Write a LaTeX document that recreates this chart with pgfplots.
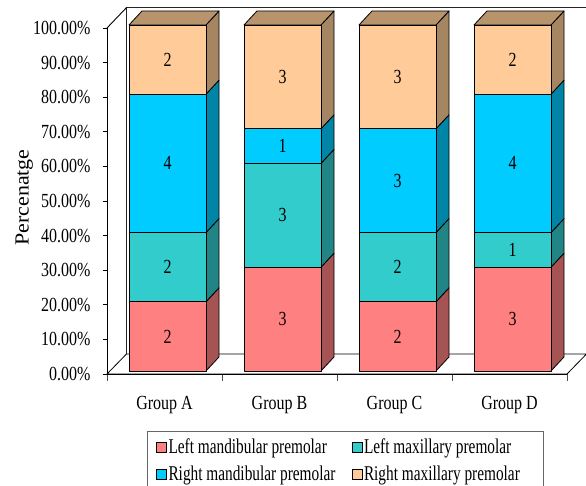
\documentclass[border=0pt]{standalone}
\usepackage{pgfplots}
\pgfplotsset{compat=1.18}
\usepackage{fontspec}
\setmainfont[FakeStretch=0.8]{Liberation Serif}
\newfontfamily\ylabfont[FakeStretch=1.1]{Liberation Serif}
\newfontfamily\legfont[FakeStretch=0.73]{Liberation Serif}
\definecolor{salF}{RGB}{255,128,128}
\definecolor{salS}{RGB}{166,83,83}
\definecolor{teaF}{RGB}{51,204,204}
\definecolor{teaS}{RGB}{33,133,133}
\definecolor{cyaF}{RGB}{0,204,255}
\definecolor{cyaS}{RGB}{0,133,166}
\definecolor{peaF}{RGB}{255,204,153}
\definecolor{peaS}{RGB}{166,133,99}
\definecolor{peaT}{RGB}{184,148,108}
\begin{document}
\begin{tikzpicture}
\useasboundingbox (0,0) rectangle (586pt,486pt);
\begin{axis}[
  at={(107pt,112pt)}, anchor=south west,
  scale only axis, width=460pt, height=346pt,
  xmin=0, xmax=460, ymin=0, ymax=100,
  clip=false,
  axis lines*=left,
  axis line style={line width=0.9pt, black},
  tick align=outside,
  xtick={0,115,230,345,460},
  xticklabels={Group A,Group B,Group C,Group D},
  x tick label as interval,
  xtick style={/pgfplots/major tick length=7pt, line width=0.8pt, black!70},
  ytick={0,10,20,30,40,50,60,70,80,90,100},
  yticklabels={0.00\%,10.00\%,20.00\%,30.00\%,40.00\%,50.00\%,60.00\%,70.00\%,80.00\%,90.00\%,100.00\%},
  ytick style={/pgfplots/major tick length=4pt, line width=0.8pt, black},
  tick label style={font=\fontsize{20}{23}\selectfont},
  yticklabel style={inner sep=0pt, xshift=-12pt},
  xticklabel style={inner sep=0pt, yshift=-18pt},
  ylabel={Percenatge},
  ylabel style={font=\ylabfont\fontsize{20}{24}\selectfont, at={(axis description cs:-0.180,0.51)}, anchor=center},
  face/.style={forget plot, draw=black, line width=0.8pt, line join=round, mark=none},
  legend image code/.code={\draw[#1, draw=black, line width=0.6pt] (0pt,-5pt) rectangle (10pt,5pt);},
  legend columns=2,
  legend cell align=left,
  legend style={at={(axis description cs:0.087,-0.1647)}, anchor=north west,
    draw=black!60, line width=0.8pt, font=\legfont\fontsize{21}{24}\selectfont,
    inner xsep=9pt, inner ysep=2pt,
    nodes={inner xsep=1.5pt, inner ysep=5.5pt},
    /tikz/every even column/.append style={column sep=15pt}},
]
% floor and walls
\addplot[face, fill=white] coordinates {(0,0) (460,0) (479.5,5.78) (19.5,5.78)} -- cycle;
\addplot[forget plot, draw=black!85, line width=1.2pt, mark=none] coordinates {(19.5,5.78) (19.5,105.9) (480,105.9)};
\addplot[forget plot, draw=black, line width=0.9pt, mark=none] coordinates {(0,100) (19.5,105.9)};
% ---------- Group A
\addplot[face, fill=salS] coordinates {(99,0.87)(112,4.92)(112,24.92)(99,20.87)} -- cycle;
\addplot[face, fill=teaS] coordinates {(99,20.87)(112,24.92)(112,44.92)(99,40.87)} -- cycle;
\addplot[face, fill=cyaS] coordinates {(99,40.87)(112,44.92)(112,84.92)(99,80.87)} -- cycle;
\addplot[face, fill=peaS] coordinates {(99,80.87)(112,84.92)(112,104.92)(99,100.87)} -- cycle;
\addplot[face, fill=peaT] coordinates {(22,100.87)(99,100.87)(112,104.92)(35,104.92)} -- cycle;
\addplot[face, fill=salF] coordinates {(22,0.87)(99,0.87)(99,20.87)(22,20.87)} -- cycle;
\addplot[face, fill=teaF] coordinates {(22,20.87)(99,20.87)(99,40.87)(22,40.87)} -- cycle;
\addplot[face, fill=cyaF] coordinates {(22,40.87)(99,40.87)(99,80.87)(22,80.87)} -- cycle;
\addplot[face, fill=peaF] coordinates {(22,80.87)(99,80.87)(99,100.87)(22,100.87)} -- cycle;
% ---------- Group B
\addplot[face, fill=salS] coordinates {(214,0.87)(227,4.92)(227,34.92)(214,30.87)} -- cycle;
\addplot[face, fill=teaS] coordinates {(214,30.87)(227,34.92)(227,64.92)(214,60.87)} -- cycle;
\addplot[face, fill=cyaS] coordinates {(214,60.87)(227,64.92)(227,74.92)(214,70.87)} -- cycle;
\addplot[face, fill=peaS] coordinates {(214,70.87)(227,74.92)(227,104.92)(214,100.87)} -- cycle;
\addplot[face, fill=peaT] coordinates {(137,100.87)(214,100.87)(227,104.92)(150,104.92)} -- cycle;
\addplot[face, fill=salF] coordinates {(137,0.87)(214,0.87)(214,30.87)(137,30.87)} -- cycle;
\addplot[face, fill=teaF] coordinates {(137,30.87)(214,30.87)(214,60.87)(137,60.87)} -- cycle;
\addplot[face, fill=cyaF] coordinates {(137,60.87)(214,60.87)(214,70.87)(137,70.87)} -- cycle;
\addplot[face, fill=peaF] coordinates {(137,70.87)(214,70.87)(214,100.87)(137,100.87)} -- cycle;
% ---------- Group C
\addplot[face, fill=salS] coordinates {(329,0.87)(342,4.92)(342,24.92)(329,20.87)} -- cycle;
\addplot[face, fill=teaS] coordinates {(329,20.87)(342,24.92)(342,44.92)(329,40.87)} -- cycle;
\addplot[face, fill=cyaS] coordinates {(329,40.87)(342,44.92)(342,74.92)(329,70.87)} -- cycle;
\addplot[face, fill=peaS] coordinates {(329,70.87)(342,74.92)(342,104.92)(329,100.87)} -- cycle;
\addplot[face, fill=peaT] coordinates {(252,100.87)(329,100.87)(342,104.92)(265,104.92)} -- cycle;
\addplot[face, fill=salF] coordinates {(252,0.87)(329,0.87)(329,20.87)(252,20.87)} -- cycle;
\addplot[face, fill=teaF] coordinates {(252,20.87)(329,20.87)(329,40.87)(252,40.87)} -- cycle;
\addplot[face, fill=cyaF] coordinates {(252,40.87)(329,40.87)(329,70.87)(252,70.87)} -- cycle;
\addplot[face, fill=peaF] coordinates {(252,70.87)(329,70.87)(329,100.87)(252,100.87)} -- cycle;
% ---------- Group D
\addplot[face, fill=salS] coordinates {(444,0.87)(457,4.92)(457,34.92)(444,30.87)} -- cycle;
\addplot[face, fill=teaS] coordinates {(444,30.87)(457,34.92)(457,44.92)(444,40.87)} -- cycle;
\addplot[face, fill=cyaS] coordinates {(444,40.87)(457,44.92)(457,84.92)(444,80.87)} -- cycle;
\addplot[face, fill=peaS] coordinates {(444,80.87)(457,84.92)(457,104.92)(444,100.87)} -- cycle;
\addplot[face, fill=peaT] coordinates {(367,100.87)(444,100.87)(457,104.92)(380,104.92)} -- cycle;
\addplot[face, fill=salF] coordinates {(367,0.87)(444,0.87)(444,30.87)(367,30.87)} -- cycle;
\addplot[face, fill=teaF] coordinates {(367,30.87)(444,30.87)(444,40.87)(367,40.87)} -- cycle;
\addplot[face, fill=cyaF] coordinates {(367,40.87)(444,40.87)(444,80.87)(367,80.87)} -- cycle;
\addplot[face, fill=peaF] coordinates {(367,80.87)(444,80.87)(444,100.87)(367,100.87)} -- cycle;
% ---------- count labels
\addplot[forget plot, draw=none, mark=none, nodes near coords, point meta=explicit symbolic,
  every node near coord/.style={anchor=center, inner sep=0pt, font=\fontsize{20}{23}\selectfont}]
  coordinates {
  (60.5,10.87)[2] (60.5,30.87)[2] (60.5,60.87)[4] (60.5,90.87)[2]
  (175.5,15.87)[3] (175.5,45.87)[3] (175.5,65.87)[1] (175.5,85.87)[3]
  (290.5,10.87)[2] (290.5,30.87)[2] (290.5,55.87)[3] (290.5,85.87)[3]
  (405.5,15.87)[3] (405.5,35.87)[1] (405.5,60.87)[4] (405.5,90.87)[2]
  };
% ---------- legend
\addlegendimage{fill=salF}
\addlegendentry{Left mandibular premolar}
\addlegendimage{fill=teaF}
\addlegendentry{Left maxillary premolar}
\addlegendimage{fill=cyaF}
\addlegendentry{Right mandibular premolar}
\addlegendimage{fill=peaF}
\addlegendentry{Right maxillary premolar\hspace*{13pt}}
\end{axis}
\end{tikzpicture}
\end{document}
